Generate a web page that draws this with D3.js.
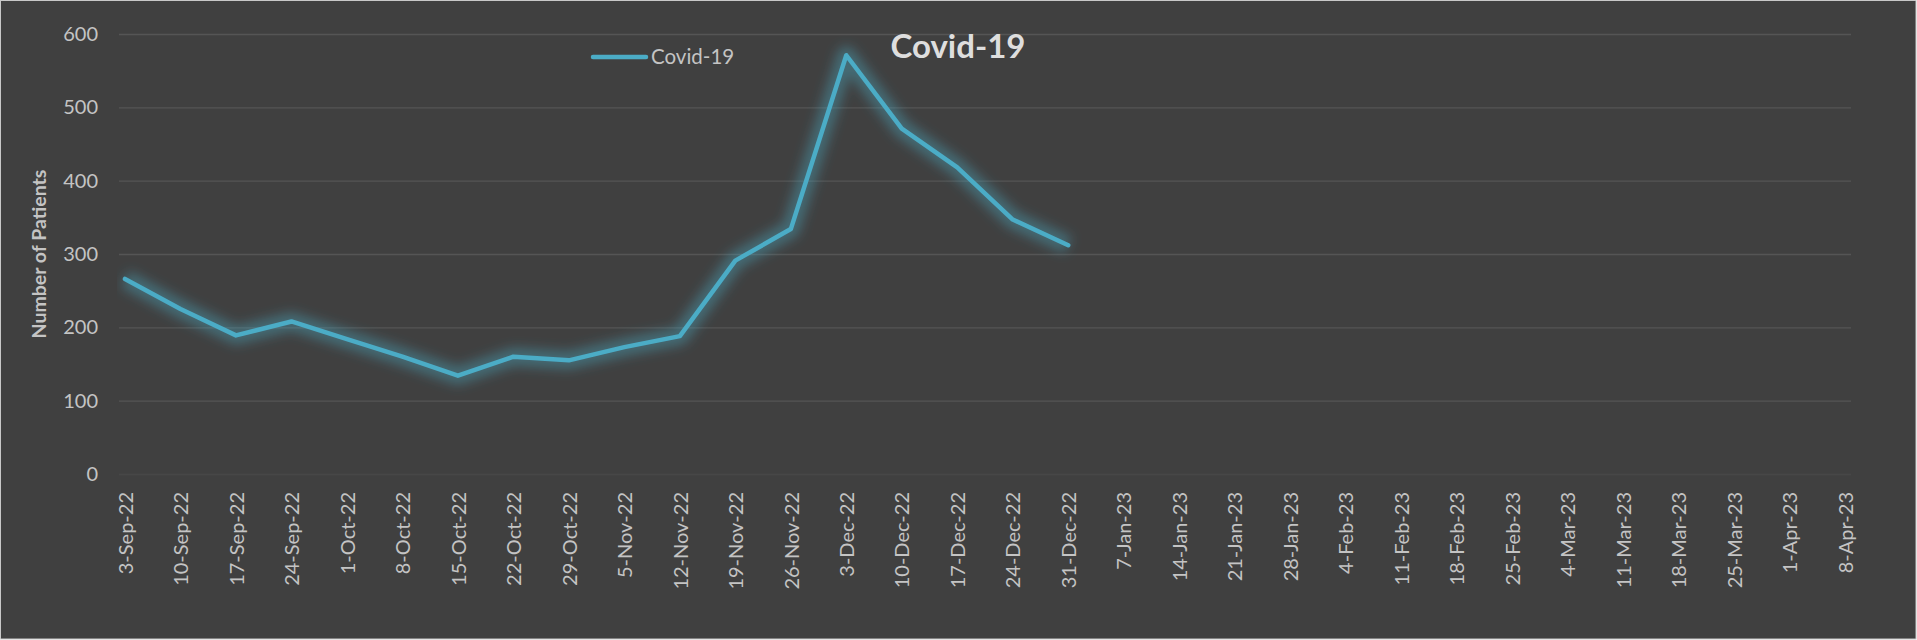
<!DOCTYPE html>
<html>
<head>
<meta charset="utf-8">
<script src="https://cdn.jsdelivr.net/npm/d3@7"></script>
<style>
  html, body { margin: 0; padding: 0; background: #ffffff; }
  svg { display: block; }
</style>
</head>
<body>
<div id="chart"></div>
<script>
// weekly dates on the x axis (Excel category labels)
const weeks = [
  "3-Sep-22", "10-Sep-22", "17-Sep-22", "24-Sep-22",
  "1-Oct-22", "8-Oct-22", "15-Oct-22", "22-Oct-22", "29-Oct-22",
  "5-Nov-22", "12-Nov-22", "19-Nov-22", "26-Nov-22",
  "3-Dec-22", "10-Dec-22", "17-Dec-22", "24-Dec-22", "31-Dec-22",
  "7-Jan-23", "14-Jan-23", "21-Jan-23", "28-Jan-23",
  "4-Feb-23", "11-Feb-23", "18-Feb-23", "25-Feb-23",
  "4-Mar-23", "11-Mar-23", "18-Mar-23", "25-Mar-23",
  "1-Apr-23", "8-Apr-23"
];

// Covid-19 patients, only filled up to 31-Dec-22
const covid = [266, 225, 189, 208, 184, 160, 134, 160, 155, 173, 188, 291, 334, 571, 471, 418, 347, 312];

const yTicks = [0, 100, 200, 300, 400, 500, 600];

const seriesName = "Covid-19";
const chartTitle = "Covid-19";
const yTitle = "Number of Patients";

// chart dimensions
const width = 1917;
const height = 640;
const plotLeft = 119;
const plotRight = 1851;
const plotTop = 34;
const plotBottom = 474;
const lineColor = "#4bacc6";
const font = "Lato, 'Open Sans', sans-serif";

const x = d3.scalePoint(weeks, [125, 1845]);
const y = d3.scaleLinear([0, 600], [plotBottom, plotTop]);

const svg = d3.create("svg")
    .attr("width", width)
    .attr("height", height)
    .attr("viewBox", [0, 0, width, height]);

// background with thin border
svg.append("rect")
    .attr("x", 0.5)
    .attr("y", 0.5)
    .attr("width", width - 1.5)
    .attr("height", height - 1.5)
    .attr("fill", "#404040")
    .attr("stroke", "#c8c8c8");

const defs = svg.append("defs");
defs.append("filter")
    .attr("id", "glow")
    .attr("x", "-10%").attr("y", "-30%")
    .attr("width", "120%").attr("height", "160%")
    .append("feGaussianBlur")
    .attr("stdDeviation", 6);
defs.append("clipPath")
    .attr("id", "plot-clip")
    .append("rect")
    .attr("x", plotLeft - 2)
    .attr("y", 0)
    .attr("width", plotRight - plotLeft + 4)
    .attr("height", height);

// gridlines + y labels
svg.append("g")
    .attr("transform", `translate(${plotLeft},0)`)
    .call(d3.axisLeft(y).tickValues(yTicks).tickSize(-(plotRight - plotLeft)).tickPadding(21))
    .call(g => g.select(".domain").remove())
    .call(g => g.selectAll(".tick line")
        .attr("stroke", d => d === 0 ? "#474747" : "#555555")
        .attr("stroke-width", 1.3))
    .call(g => g.selectAll(".tick text")
        .attr("fill", "#c4c4c4")
        .attr("font-family", font)
        .attr("font-size", 20));

// x labels, rotated
svg.append("g")
    .attr("transform", `translate(0,${plotBottom})`)
    .call(d3.axisBottom(x).tickSize(0))
    .call(g => g.select(".domain").remove())
    .call(g => g.selectAll(".tick text")
        .attr("transform", "rotate(-90)")
        .attr("x", -18)
        .attr("y", 0)
        .attr("dy", "0.36em")
        .attr("text-anchor", "end")
        .attr("fill", "#c4c4c4")
        .attr("font-family", font)
        .attr("font-size", 20));

const line = d3.line()
    .x((d, i) => x(weeks[i]))
    .y(d => y(d));

// soft glow under the line
svg.append("g")
    .attr("clip-path", "url(#plot-clip)")
    .append("path")
    .datum(covid)
    .attr("d", line)
    .attr("fill", "none")
    .attr("stroke", lineColor)
    .attr("stroke-opacity", 0.4)
    .attr("stroke-width", 18)
    .attr("stroke-linejoin", "round")
    .attr("filter", "url(#glow)");

svg.append("path")
    .datum(covid)
    .attr("d", line)
    .attr("fill", "none")
    .attr("stroke", lineColor)
    .attr("stroke-width", 4.5)
    .attr("stroke-linejoin", "round")
    .attr("stroke-linecap", "round");

// legend
const legend = svg.append("g");
legend.append("line")
    .attr("x1", 593).attr("x2", 646)
    .attr("y1", 57).attr("y2", 57)
    .attr("stroke", lineColor)
    .attr("stroke-width", 4.5)
    .attr("stroke-linecap", "round");
legend.append("text")
    .attr("x", 651)
    .attr("y", 64)
    .attr("fill", "#c4c4c4")
    .attr("font-family", font)
    .attr("font-size", 20.5)
    .text(seriesName);

// title
svg.append("text")
    .attr("x", 958)
    .attr("y", 58)
    .attr("text-anchor", "middle")
    .attr("fill", "#dedede")
    .attr("font-family", font)
    .attr("font-weight", "bold")
    .attr("font-size", 33)
    .text(chartTitle);

// y axis title
svg.append("text")
    .attr("transform", `translate(46,${(plotTop + plotBottom) / 2}) rotate(-90)`)
    .attr("text-anchor", "middle")
    .attr("fill", "#c4c4c4")
    .attr("font-family", font)
    .attr("font-weight", "bold")
    .attr("font-size", 19.5)
    .text(yTitle);

document.getElementById("chart").appendChild(svg.node());
</script>
</body>
</html>
